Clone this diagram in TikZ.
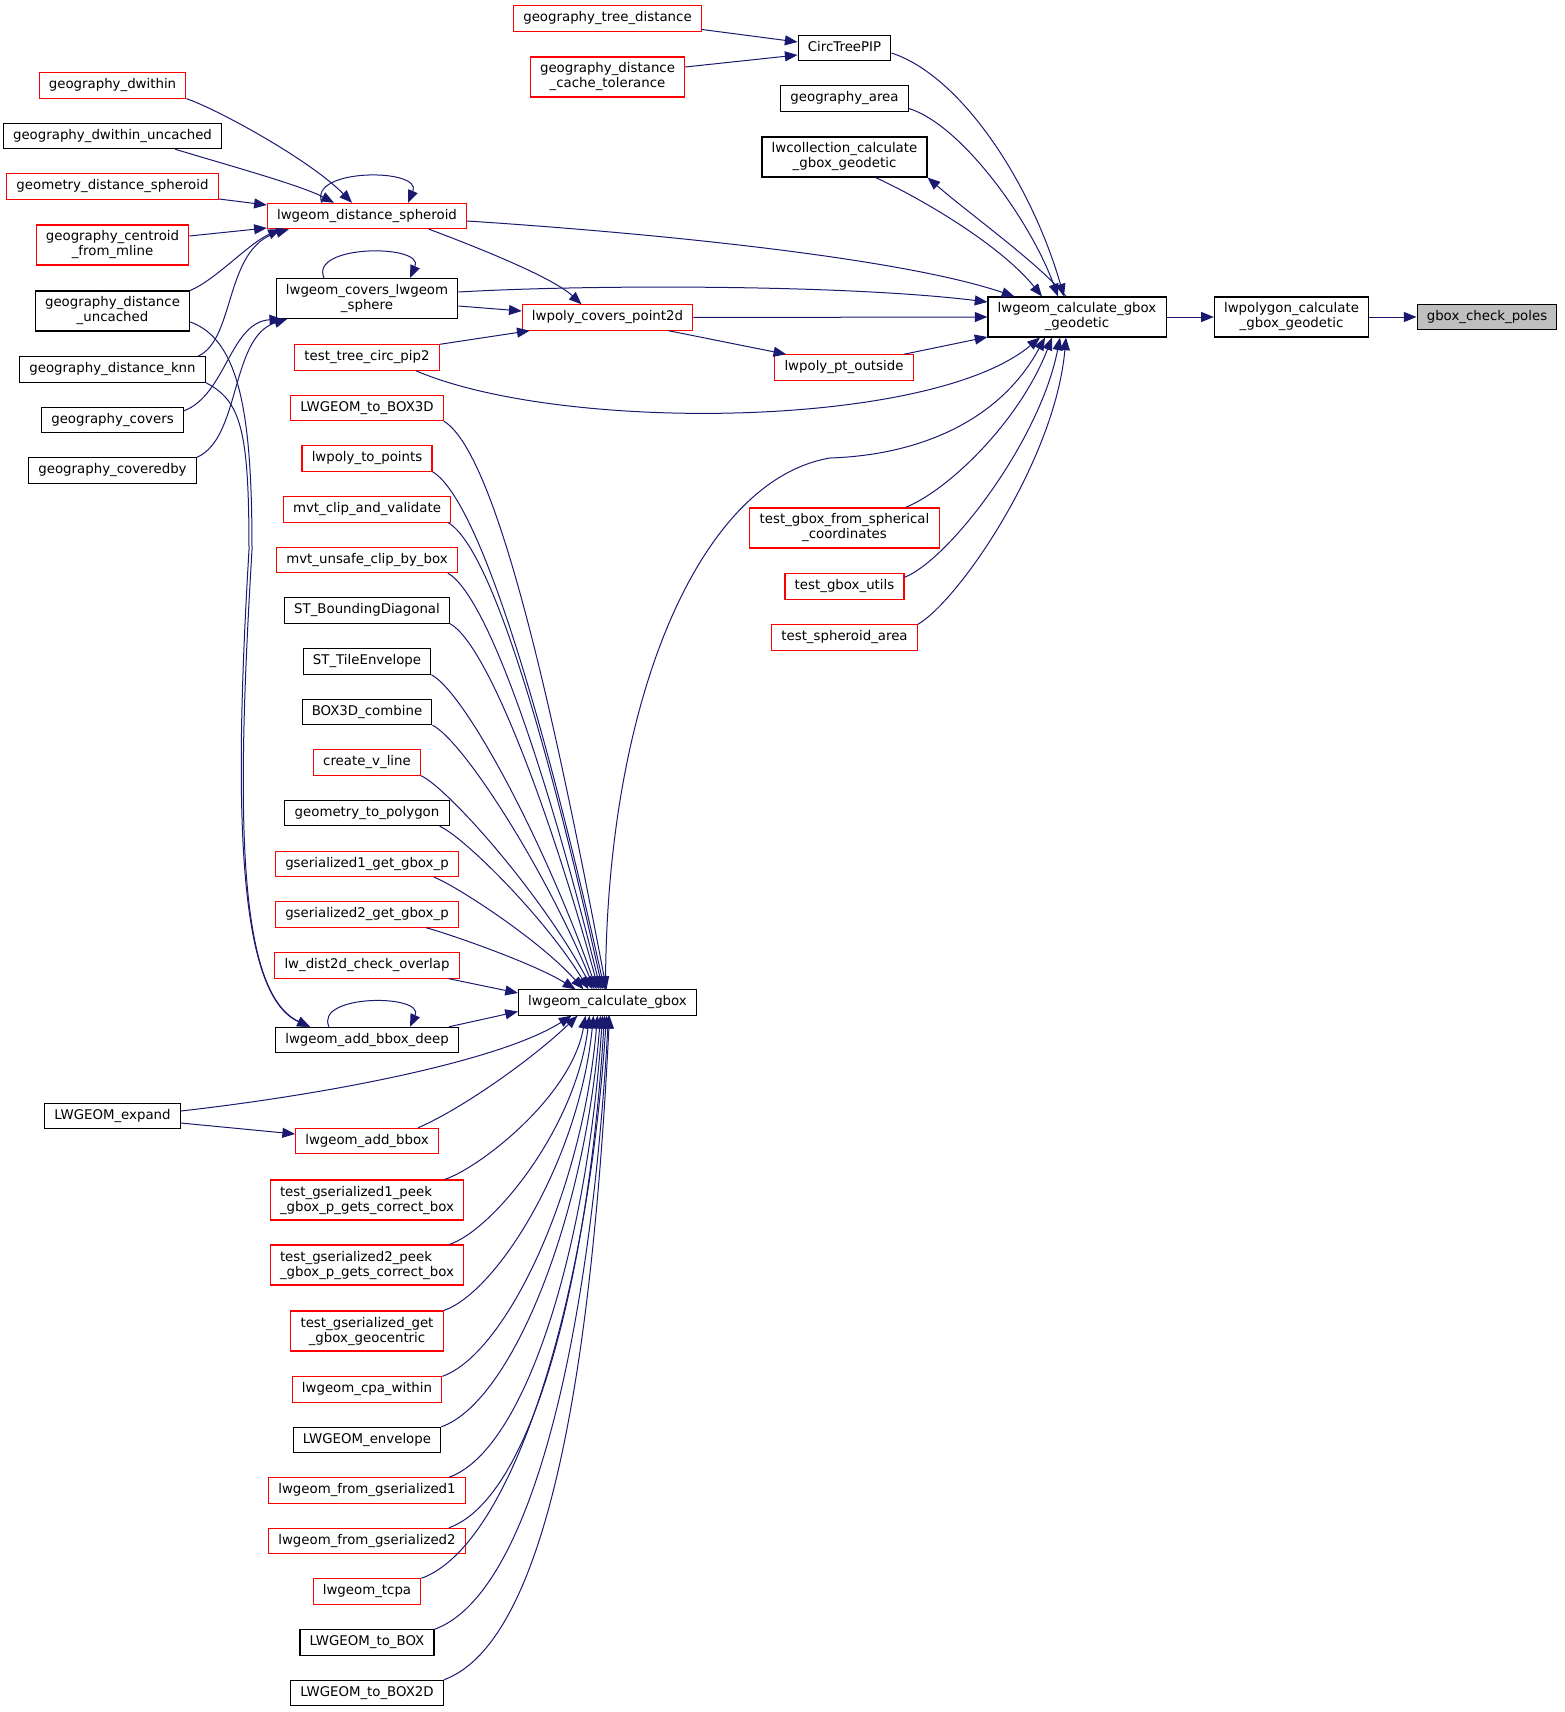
\documentclass[tikz,border=0pt]{standalone}
\usepackage{fontspec}
\setmainfont{DejaVu Sans}
\usetikzlibrary{arrows.meta,calc}
\definecolor{callblue}{HTML}{191970}
\tikzset{
  fnbox/.style={draw=black, line width=0.8pt, inner xsep=7.3pt, inner ysep=2pt,
    font=\fontsize{10}{11.25}\selectfont},
  oneline/.style={fnbox, minimum height=19pt, text height=7.6pt, text depth=2.4pt},
  twoline/.style={fnbox, minimum height=30pt, align=center},
  redbox/.style={draw=red},
  call/.style={draw=callblue, line width=0.75pt, -{Triangle[length=9.5pt,width=7.5pt]}}
}
\begin{document}
\begin{tikzpicture}[x=0.75pt,y=-0.75pt]
    \useasboundingbox (0,0) rectangle (1564,1712);

    \node[oneline, fill=gray!50] (poles) at (1487,317) {gbox\_check\_poles};
    \node[twoline] (lwpolygon) at (1291.5,317) {lwpolygon\_calculate\\\_gbox\_geodetic};
    \node[twoline] (geodetic) at (1077,317) {lwgeom\_calculate\_gbox\\\_geodetic};

    \node[oneline] (circ) at (844.5,48) {CircTreePIP};
    \node[oneline] (garea) at (844.5,98.5) {geography\_area};
    \node[twoline] (lwcoll) at (844.5,157) {lwcollection\_calculate\\\_gbox\_geodetic};
    \node[oneline, redbox] (ptout) at (844,367.5) {lwpoly\_pt\_outside};
    \node[twoline, redbox] (spher) at (844.5,528) {test\_gbox\_from\_spherical\\\_coordinates};
    \node[oneline, redbox] (gutils) at (844.5,586.5) {test\_gbox\_utils};
    \node[oneline, redbox] (sparea) at (844.5,637.5) {test\_spheroid\_area};

    \node[oneline, redbox] (treedist) at (607.5,18.5) {geography\_tree\_distance};
    \node[twoline, redbox] (cachetol) at (607.5,77) {geography\_distance\\\_cache\_tolerance};
    \node[oneline, redbox] (covpt) at (607.5,317.5) {lwpoly\_covers\_point2d};
    \node[oneline] (calcgbox) at (607.5,1002.5) {lwgeom\_calculate\_gbox};

    \node[oneline, redbox] (dwithin) at (112.5,85.5) {geography\_dwithin};
    \node[oneline] (dwunc) at (112.5,136) {geography\_dwithin\_uncached};
    \node[oneline, redbox] (geomds) at (112.5,186.5) {geometry\_distance\_spheroid};
    \node[twoline, redbox] (centroid) at (112.5,245) {geography\_centroid\\\_from\_mline};
    \node[twoline] (distunc) at (112.5,311) {geography\_distance\\\_uncached};
    \node[oneline] (knn) at (112.5,369.5) {geography\_distance\_knn};
    \node[oneline] (covers) at (112.5,420) {geography\_covers};
    \node[oneline] (coveredby) at (112.5,470.5) {geography\_coveredby};
    \node[oneline] (expand) at (112.5,1116) {LWGEOM\_expand};

    \node[oneline, redbox] (distsph) at (367,216) {lwgeom\_distance\_spheroid};
    \node[twoline] (covsph) at (367,298.5) {lwgeom\_covers\_lwgeom\\\_sphere};
    \node[oneline, redbox] (pip2) at (367,357.5) {test\_tree\_circ\_pip2};
    \node[oneline, redbox] (tobox3d) at (367,408) {LWGEOM\_to\_BOX3D};
    \node[oneline, redbox] (topoints) at (367,458.5) {lwpoly\_to\_points};
    \node[oneline, redbox] (mvtclip) at (367,509.5) {mvt\_clip\_and\_validate};
    \node[oneline, redbox] (mvtunsafe) at (367,560) {mvt\_unsafe\_clip\_by\_box};
    \node[oneline] (stbd) at (367,610.5) {ST\_BoundingDiagonal};
    \node[oneline] (sttile) at (367,661.5) {ST\_TileEnvelope};
    \node[oneline] (b3dcomb) at (367,712) {BOX3D\_combine};
    \node[oneline, redbox] (vline) at (367,762.5) {create\_v\_line};
    \node[oneline] (topoly) at (367,813) {geometry\_to\_polygon};
    \node[oneline, redbox] (gs1) at (367,864) {gserialized1\_get\_gbox\_p};
    \node[oneline, redbox] (gs2) at (367,914.5) {gserialized2\_get\_gbox\_p};
    \node[oneline, redbox] (dist2d) at (367,965.5) {lw\_dist2d\_check\_overlap};
    \node[oneline] (bboxdeep) at (367,1040) {lwgeom\_add\_bbox\_deep};
    \node[oneline, redbox] (addbbox) at (367,1141) {lwgeom\_add\_bbox};
    \node[twoline, redbox, align=left] (peek1) at (367,1200) {test\_gserialized1\_peek\\\_gbox\_p\_gets\_correct\_box};
    \node[twoline, redbox, align=left] (peek2) at (367,1265) {test\_gserialized2\_peek\\\_gbox\_p\_gets\_correct\_box};
    \node[twoline, redbox] (geocen) at (367,1331) {test\_gserialized\_get\\\_gbox\_geocentric};
    \node[oneline, redbox] (cpa) at (367,1389.5) {lwgeom\_cpa\_within};
    \node[oneline] (envelope) at (367,1440) {LWGEOM\_envelope};
    \node[oneline, redbox] (fromgs1) at (367,1490.5) {lwgeom\_from\_gserialized1};
    \node[oneline, redbox] (fromgs2) at (367,1541) {lwgeom\_from\_gserialized2};
    \node[oneline, redbox] (tcpa) at (367,1591.5) {lwgeom\_tcpa};
    \node[oneline] (tobox) at (367,1642.5) {LWGEOM\_to\_BOX};
    \node[oneline] (tobox2d) at (367,1693) {LWGEOM\_to\_BOX2D};

    \draw[call] (geodetic.east) -- (lwpolygon.west);
    \draw[call] (lwpolygon.east) -- (poles.west);

    \draw[call] ($(circ.east)+(0,5)$) .. controls +(68,22) and +(-34,-117) .. ($(geodetic.north)+(-13,0)$);
    \draw[call] ($(garea.east)+(0,10)$) .. controls +(52,16) and +(-28,-77) .. ($(geodetic.north)+(-19,0)$);
    \draw[call] ($(lwcoll.south)+(31,0)$) .. controls +(44,20) and +(-42,-52) .. ($(geodetic.north)+(-35,0)$);
    \draw[call] ($(geodetic.north)+(-11,0)$) .. controls +(-26,-32) and +(44,38) .. (lwcoll.south east);
    \draw[call] ($(distsph.east)+(0,5)$) .. controls +(184,12) and +(-115,-39) .. ($(geodetic.north west)+(27,0)$);
    \draw[call] ($(covsph.east)+(0,-6.5)$) .. controls +(141,-8) and +(-137,-17) .. ($(geodetic.west)+(0,-15)$);
    \draw[call] (covpt.east) -- (geodetic.west);
    \draw[call] ($(ptout.north east)+(-10,0)$) -- ($(geodetic.west)+(0,20)$);
    \draw[call] ($(covpt.south east)+(-25,0)$) -- ($(ptout.north west)+(12,0)$);
    \draw[call] ($(pip2.south east)+(-24,0)$) .. controls +(144,62) and +(-110,92) .. ($(geodetic.south)+(-37,0)$);
    \draw[call] ($(calcgbox.north)+(-2,0)$) .. controls +(0,-290) and +(-130,22) .. (830,458)
        .. controls +(90,-3) and +(-45,83) .. ($(geodetic.south)+(-32,0)$);
    \draw[call] ($(spher.north)+(61,0)$) .. controls +(44,-18) and +(-32,83) .. ($(geodetic.south)+(-25,0)$);
    \draw[call] ($(gutils.north east)+(0,4)$) .. controls +(45,-18) and +(-20,103) .. ($(geodetic.south)+(-17,0)$);
    \draw[call] (sparea.north east) .. controls +(41,-24) and +(-11,123) .. ($(geodetic.south)+(-11,0)$);

    \draw[call] ($(treedist.east)+(0,11)$) -- ($(circ.west)+(0,-6)$);
    \draw[call] ($(cachetol.east)+(0,-10)$) -- ($(circ.west)+(0,7)$);

    \draw[call] (dwithin.south east) .. controls +(30,10) and +(-42,-43) .. ($(distsph.north)+(-15,0)$);
    \draw[call] ($(dwunc.south east)+(-47,0)$) .. controls +(42,13) and +(-34,-18) .. ($(distsph.north)+(-33,0)$);
    \draw[call] ($(geomds.east)+(0,12.5)$) -- ($(distsph.west)+(0,-11)$);
    \draw[call] ($(centroid.east)+(0,-9)$) -- ($(distsph.west)+(0,12)$);
    \draw[call] (distunc.north east) .. controls +(26,-11) and +(-32,14) .. ($(distsph.south west)+(14,0)$);
    \draw[call] ($(knn.north east)+(-8,0)$) .. controls +(38,-17) and +(-65,19) .. ($(distsph.south west)+(22,0)$);
    \draw[call] ($(distsph.north)+(-45,0)$) .. controls +(-15,-35) and +(15,-35) .. ($(distsph.north)+(41,0)$);
    \draw[call] ($(distsph.south)+(62,0)$) .. controls +(40,15) and +(-30,-28) .. ($(covpt.north)+(-26,0)$);

    \draw[call] ($(covsph.north)+(-43,0)$) .. controls +(-15,-34) and +(15,-34) .. ($(covsph.north)+(43,0)$);
    \draw[call] ($(covers.north east)+(0,4)$) .. controls +(42,-16) and +(-52,3) .. ($(covsph.south west)+(6.5,0)$);
    \draw[call] (coveredby.north east) .. controls +(44,-19) and +(-57,18) .. ($(covsph.south west)+(11.5,0)$);
    \draw[call] ($(covsph.east)+(0,7.5)$) -- ($(covpt.west)+(0,-6.5)$);
    \draw[call] (pip2.north east) -- ($(covpt.south west)+(8,0)$);

    \draw[call] ($(distunc.east)+(0,11)$) .. controls +(51,18) and +(0,-130) .. (252,550)
        .. controls +(-15,250) and +(-75,-35) .. ($(bboxdeep.north)+(-57,0)$);
    \draw[call] (knn.south east) .. controls +(35,18) and +(0,-120) .. (249,550)
        .. controls +(-15,250) and +(-74,-33) .. ($(bboxdeep.north)+(-57,0)$);
    \draw[call] ($(bboxdeep.north)+(-38,0)$) .. controls +(-15,-33) and +(15,-33) .. ($(bboxdeep.north)+(43,0)$);
    \draw[call] ($(bboxdeep.north east)+(-10,0)$) -- ($(calcgbox.west)+(0,9)$);
    \draw[call] ($(dist2d.south east)+(-11,0)$) -- ($(calcgbox.west)+(0,-9.5)$);

    \draw[call] ($(expand.east)+(0,-5)$) .. controls +(150,-17) and +(-71,45) .. ($(calcgbox.south)+(-36,0)$);
    \draw[call] ($(expand.east)+(0,7)$) -- ($(addbbox.west)+(0,-7)$);
    \draw[call] ($(addbbox.north east)+(-21,0)$) .. controls +(42,-18) and +(-47,45) .. ($(calcgbox.south)+(-30,0)$);

    \foreach \s/\dx/\t in {tobox3d/0/-1, topoints/0/-3, mvtclip/-3/-5, mvtunsafe/-10/-7,
        stbd/0/-9, sttile/0/-11, b3dcomb/0/-13, vline/0/-15, topoly/-10/-19,
        gs1/-25/-24, gs2/-33/-32}
      \draw[call] let \p1=($(\s.south east)+(\dx,0)$), \p2=($(calcgbox.north)+(\t,0)$),
          \n1={\y1-\y2}, \n2={\x2-\x1} in
        (\p1) .. controls (\x1+0.08*\n1+7.5pt,\y1-0.06*\n1) and (\x2-0.3*\n2,\y2+0.45*\n1) .. (\p2);

    \foreach \s/\dx/\t in {peek1/-20/-22, peek2/-15/-18, geocen/0/-14, cpa/0/-10,
        envelope/0/-7, fromgs1/-17/-5, fromgs2/-17/-3, tcpa/0/-1, tobox/0/1, tobox2d/0/2}
      \draw[call] let \p1=($(\s.north east)+(\dx,0)$), \p2=($(calcgbox.south)+(\t,0)$),
          \n1={\y2-\y1}, \n2={\x2-\x1} in
        (\p1) .. controls (\x1+0.15*\n1+6pt,\y1+0.06*\n1) and (\x2-0.1*\n2,\y2-0.5*\n1) .. (\p2);
\end{tikzpicture}
\end{document}
